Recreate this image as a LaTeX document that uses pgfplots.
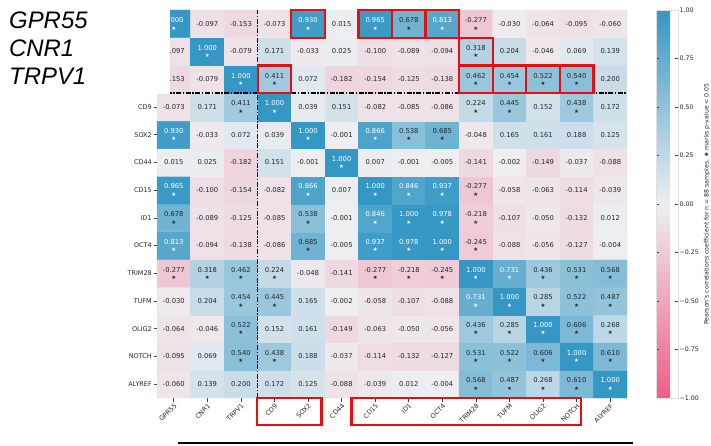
\documentclass[border=0pt]{standalone}
\usepackage{fontspec}
\setmainfont{DejaVu Sans}
\newfontfamily\arialfont{Liberation Sans}
\usepackage{pgfplots}
\usepackage{pgfplotstable}
\pgfplotsset{compat=1.18}

% Pearson correlation matrix (x = column, y = row counted from the bottom), s = 1 if p < 0.05
\pgfplotstableread{
x y v s
0 0 -0.060 0
1 0 0.139 0
2 0 0.200 0
3 0 0.172 0
4 0 0.125 0
5 0 -0.088 0
6 0 -0.039 0
7 0 0.012 0
8 0 -0.004 0
9 0 0.568 1
10 0 0.487 1
11 0 0.268 1
12 0 0.610 1
13 0 1.000 1
0 1 -0.095 0
1 1 0.069 0
2 1 0.540 1
3 1 0.438 1
4 1 0.188 0
5 1 -0.037 0
6 1 -0.114 0
7 1 -0.132 0
8 1 -0.127 0
9 1 0.531 1
10 1 0.522 1
11 1 0.606 1
12 1 1.000 1
13 1 0.610 1
0 2 -0.064 0
1 2 -0.046 0
2 2 0.522 1
3 2 0.152 0
4 2 0.161 0
5 2 -0.149 0
6 2 -0.063 0
7 2 -0.050 0
8 2 -0.056 0
9 2 0.436 1
10 2 0.285 1
11 2 1.000 1
12 2 0.606 1
13 2 0.268 1
0 3 -0.030 0
1 3 0.204 0
2 3 0.454 1
3 3 0.445 1
4 3 0.165 0
5 3 -0.002 0
6 3 -0.058 0
7 3 -0.107 0
8 3 -0.088 0
9 3 0.731 1
10 3 1.000 1
11 3 0.285 1
12 3 0.522 1
13 3 0.487 1
0 4 -0.277 1
1 4 0.318 1
2 4 0.462 1
3 4 0.224 1
4 4 -0.048 0
5 4 -0.141 0
6 4 -0.277 1
7 4 -0.218 1
8 4 -0.245 1
9 4 1.000 1
10 4 0.731 1
11 4 0.436 1
12 4 0.531 1
13 4 0.568 1
0 5 0.813 1
1 5 -0.094 0
2 5 -0.138 0
3 5 -0.086 0
4 5 0.685 1
5 5 -0.005 0
6 5 0.937 1
7 5 0.978 1
8 5 1.000 1
9 5 -0.245 1
10 5 -0.088 0
11 5 -0.056 0
12 5 -0.127 0
13 5 -0.004 0
0 6 0.678 1
1 6 -0.089 0
2 6 -0.125 0
3 6 -0.085 0
4 6 0.538 1
5 6 -0.001 0
6 6 0.846 1
7 6 1.000 1
8 6 0.978 1
9 6 -0.218 1
10 6 -0.107 0
11 6 -0.050 0
12 6 -0.132 0
13 6 0.012 0
0 7 0.965 1
1 7 -0.100 0
2 7 -0.154 0
3 7 -0.082 0
4 7 0.866 1
5 7 0.007 0
6 7 1.000 1
7 7 0.846 1
8 7 0.937 1
9 7 -0.277 1
10 7 -0.058 0
11 7 -0.063 0
12 7 -0.114 0
13 7 -0.039 0
0 8 0.015 0
1 8 0.025 0
2 8 -0.182 0
3 8 0.151 0
4 8 -0.001 0
5 8 1.000 1
6 8 0.007 0
7 8 -0.001 0
8 8 -0.005 0
9 8 -0.141 0
10 8 -0.002 0
11 8 -0.149 0
12 8 -0.037 0
13 8 -0.088 0
0 9 0.930 1
1 9 -0.033 0
2 9 0.072 0
3 9 0.039 0
4 9 1.000 1
5 9 -0.001 0
6 9 0.866 1
7 9 0.538 1
8 9 0.685 1
9 9 -0.048 0
10 9 0.165 0
11 9 0.161 0
12 9 0.188 0
13 9 0.125 0
0 10 -0.073 0
1 10 0.171 0
2 10 0.411 1
3 10 1.000 1
4 10 0.039 0
5 10 0.151 0
6 10 -0.082 0
7 10 -0.085 0
8 10 -0.086 0
9 10 0.224 1
10 10 0.445 1
11 10 0.152 0
12 10 0.438 1
13 10 0.172 0
0 11 -0.153 0
1 11 -0.079 0
2 11 1.000 1
3 11 0.411 1
4 11 0.072 0
5 11 -0.182 0
6 11 -0.154 0
7 11 -0.125 0
8 11 -0.138 0
9 11 0.462 1
10 11 0.454 1
11 11 0.522 1
12 11 0.540 1
13 11 0.200 0
0 12 -0.097 0
1 12 1.000 1
2 12 -0.079 0
3 12 0.171 0
4 12 -0.033 0
5 12 0.025 0
6 12 -0.100 0
7 12 -0.089 0
8 12 -0.094 0
9 12 0.318 1
10 12 0.204 0
11 12 -0.046 0
12 12 0.069 0
13 12 0.139 0
0 13 1.000 1
1 13 -0.097 0
2 13 -0.153 0
3 13 -0.073 0
4 13 0.930 1
5 13 0.015 0
6 13 0.965 1
7 13 0.678 1
8 13 0.813 1
9 13 -0.277 1
10 13 -0.030 0
11 13 -0.064 0
12 13 -0.095 0
13 13 -0.060 0
}\cells

\definecolor{boxred}{RGB}{226,16,16}
\newcommand{\sigstar}{★}
% text colour of a cell label: white on the darkest cells
\newcommand{\labelcolor}[1]{\ifdim#1pt>0.7pt\color{white}\else\color{black!85}\fi}

\begin{document}
\begin{tikzpicture}
\useasboundingbox (0bp,0bp) rectangle (711bp,-446bp);
\begin{axis}[
  at={(157bp,-10bp)}, anchor=north west,
  width=470bp, height=388bp, scale only axis,
  xmin=-0.5, xmax=13.5, ymin=-0.5, ymax=13.5,
  axis line style={draw=none},
  clip=false,
  tick align=outside, tick pos=left,
  major tick length=3.5bp,
  tick style={black!75, line width=0.6bp},
  xtick={0,...,13},
  xticklabels={GPR55,CNR1,TRPV1,CD9,SOX2,CD44,CD15,ID1,OCT4,TRIM28,TUFM,OLIG2,NOTCH,ALYREF},
  ytick={0,...,13},
  yticklabels={ALYREF,NOTCH,OLIG2,TUFM,TRIM28,OCT4,ID1,CD15,CD44,SOX2,CD9,TRPV1,CNR1,GPR55},
  xticklabel style={rotate=45, anchor=north east, font=\fontsize{6.5}{7}\selectfont, inner sep=1bp, text=black!85},
  yticklabel style={font=\fontsize{6.5}{7}\selectfont, inner sep=1.5bp, text=black!85},
  colormap={corr}{rgb255(0cm)=(241,93,134); rgb255(1cm)=(238,238,241); rgb255(2cm)=(52,151,196)},
  point meta min=-1, point meta max=1,
  colorbar,
  colorbar style={
    at={(parent axis.north east)}, anchor=north west, xshift=20.5bp,
    width=22bp,
    ytick={-1,-0.75,-0.5,-0.25,0,0.25,0.5,0.75,1},
    yticklabels={−1.00,−0.75,−0.50,−0.25,0.00,0.25,0.50,0.75,1.00},
    yticklabel style={font=\fontsize{6.3}{7}\selectfont, inner sep=1.5bp, text=black!85},
    major tick length=3bp,
    tick style={black!75, line width=0.6bp},
    axis line style={black!12},
  },
]
% heatmap cells
\addplot[matrix plot*, mesh/cols=14, point meta=explicit] table[x=x, y=y, meta=v]{\cells};

% coefficient labels of significant cells (raised above the star)
\addplot[draw=none, mark=none, forget plot, point meta=explicit symbolic,
  restrict expr to domain={\thisrow{s}}{0.5:1.5},
  nodes near coords={\labelcolor{\pgfplotspointmeta}\pgfplotspointmeta},
  every node near coord/.append style={anchor=base, inner sep=0pt, yshift=1.2bp,
    font=\fontsize{6.8}{7}\selectfont},
] table[x=x, y=y, meta=v]{\cells};

% coefficient labels of the other cells (centred)
\addplot[draw=none, mark=none, forget plot, point meta=explicit symbolic,
  restrict expr to domain={\thisrow{s}}{-0.5:0.5},
  nodes near coords={\labelcolor{\pgfplotspointmeta}\pgfplotspointmeta},
  every node near coord/.append style={anchor=base, inner sep=0pt, yshift=-2.4bp,
    font=\fontsize{6.8}{7}\selectfont},
] table[x=x, y=y, meta=v]{\cells};

% significance stars
\addplot[draw=none, mark=none, forget plot, point meta=explicit symbolic,
  restrict expr to domain={\thisrow{s}}{0.5:1.5},
  nodes near coords={\labelcolor{\pgfplotspointmeta}\sigstar},
  every node near coord/.append style={anchor=base, inner sep=0pt, yshift=-6.2bp,
    font=\fontsize{5.5}{6}\selectfont},
] table[x=x, y=y, meta=v]{\cells};

% separators between the receptor block and the marker genes
\draw[black, line width=1.3bp, dash pattern=on 5bp off 1.6bp on 1.4bp off 1.6bp]
  (axis cs:2.5,-0.5) -- (axis cs:2.5,13.5);
\draw[black, line width=1.3bp, dash pattern=on 5bp off 1.6bp on 1.4bp off 1.6bp]
  (axis cs:-0.5,10.5) -- (axis cs:13.5,10.5);

% highlighted coefficients
\draw[boxred, line width=2.4bp] (axis cs:3.5,12.5) rectangle (axis cs:4.5,13.5);
\draw[boxred, line width=2.4bp] (axis cs:5.5,12.5) rectangle (axis cs:6.5,13.5);
\draw[boxred, line width=2.4bp] (axis cs:6.5,12.5) rectangle (axis cs:7.5,13.5);
\draw[boxred, line width=2.4bp] (axis cs:7.5,12.5) rectangle (axis cs:8.5,13.5);
\draw[boxred, line width=2.4bp] (axis cs:8.5,11.5) rectangle (axis cs:9.5,12.5);
\draw[boxred, line width=2.4bp] (axis cs:2.5,10.5) rectangle (axis cs:3.5,11.5);
\draw[boxred, line width=2.4bp] (axis cs:8.5,10.5) rectangle (axis cs:9.5,11.5);
\draw[boxred, line width=2.4bp] (axis cs:9.5,10.5) rectangle (axis cs:10.5,11.5);
\draw[boxred, line width=2.4bp] (axis cs:10.5,10.5) rectangle (axis cs:11.5,11.5);
\draw[boxred, line width=2.4bp] (axis cs:11.5,10.5) rectangle (axis cs:12.5,11.5);
% highlighted gene names
\draw[boxred, line width=2.4bp] (axis cs:2.48,-0.5) rectangle (axis cs:4.40,-1.47);
\draw[boxred, line width=2.4bp] (axis cs:5.29,-0.5) rectangle (axis cs:12.13,-1.47);
\end{axis}

% receptor names panel
\fill[white] (0bp,0bp) rectangle (170bp,-94bp);
\node[anchor=base west, inner sep=0pt, font=\arialfont\itshape\fontsize{24}{24}\selectfont] at (9bp,-28bp) {GPR55};
\node[anchor=base west, inner sep=0pt, font=\arialfont\itshape\fontsize{24}{24}\selectfont] at (9bp,-56bp) {CNR1};
\node[anchor=base west, inner sep=0pt, font=\arialfont\itshape\fontsize{24}{24}\selectfont] at (9bp,-84bp) {TRPV1};

% colorbar caption
\node[rotate=90, inner sep=0pt, font=\fontsize{6.2}{7}\selectfont, text=black!85] at (707bp,-204bp)
  {Pearson's correlations coefficient for n = 88 samples, \sigstar\ marks p-value < 0.05};

\draw[black, line width=2.5bp] (178bp,-443bp) -- (633bp,-443bp);
\end{tikzpicture}
\end{document}
